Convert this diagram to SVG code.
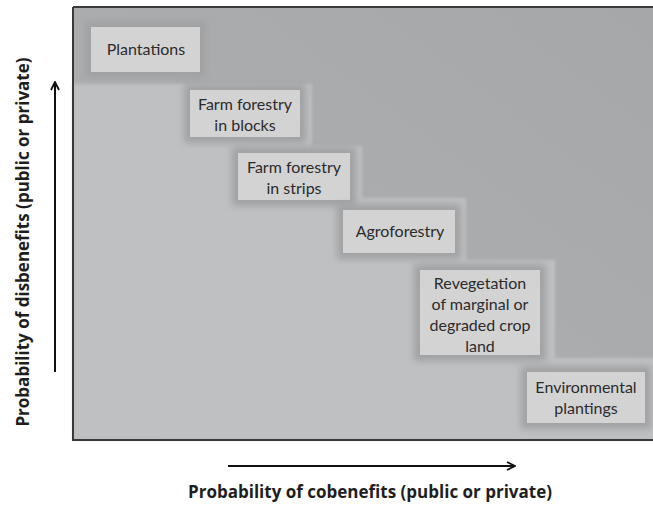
<svg xmlns="http://www.w3.org/2000/svg" width="653" height="505" viewBox="0 0 653 505">
<style>
.lbl{font-family:Lato,"Open Sans","Liberation Sans",sans-serif;font-size:16px;fill:#2b2b2b;text-anchor:middle}
.ax{font-family:"Open Sans","Liberation Sans",sans-serif;font-size:17px;font-weight:bold;fill:#1e1e1e;text-anchor:middle}
.box{fill:#d3d3d4}
.halo{fill:none;stroke:#a0a1a3;stroke-width:12}
.arr{stroke:#111;stroke-width:2;fill:none}
</style>
<defs>
<linearGradient id="bg" x1="0" y1="1" x2="1" y2="0">
<stop offset="0" stop-color="#b0b1b3"/>
<stop offset="1" stop-color="#a6a7a9"/>
</linearGradient>
<filter id="bl" x="-30%" y="-30%" width="160%" height="160%"><feGaussianBlur stdDeviation="3.5"/></filter>
<filter id="bl2" x="-5%" y="-5%" width="110%" height="110%"><feGaussianBlur stdDeviation="1.5"/></filter>
<marker id="ah" viewBox="0 0 10 10" refX="9" refY="5" markerWidth="10" markerHeight="10" markerUnits="userSpaceOnUse" orient="auto">
<path d="M1,1 L9,5 L1,9" fill="none" stroke="#111" stroke-width="1.8"/>
</marker>
</defs>
<g id="plot">
<rect x="73" y="7" width="590" height="433" fill="url(#bg)"/>
<path d="M73,440 L73,84 L312,84 L312,146 L362,146 L362,198 L466,198 L466,260 L555,260 L555,358 L660,358 L660,440 Z" fill="#bfc0c2" filter="url(#bl2)"/>
<path d="M73,7 H660 M73,7 V440 H660" fill="none" stroke="#3a3a3a" stroke-width="2"/>
</g>
<g id="n1"><rect class="halo" x="91" y="27" width="109" height="45" filter="url(#bl)"/><rect class="box" x="91" y="27" width="109" height="45"/><text class="lbl" x="146" y="55">Plantations</text></g>
<g id="n2"><rect class="halo" x="190" y="90" width="110" height="47" filter="url(#bl)"/><rect class="box" x="190" y="90" width="110" height="47"/><text class="lbl" x="245" y="110">Farm forestry</text><text class="lbl" x="245" y="131">in blocks</text></g>
<g id="n3"><rect class="halo" x="238" y="153" width="112" height="47" filter="url(#bl)"/><rect class="box" x="238" y="153" width="112" height="47"/><text class="lbl" x="294" y="173">Farm forestry</text><text class="lbl" x="294" y="194">in strips</text></g>
<g id="n4"><rect class="halo" x="343" y="210" width="112" height="43" filter="url(#bl)"/><rect class="box" x="343" y="210" width="112" height="43"/><text class="lbl" x="400" y="237">Agroforestry</text></g>
<g id="n5"><rect class="halo" x="420" y="270" width="120" height="85" filter="url(#bl)"/><rect class="box" x="420" y="270" width="120" height="85"/><text class="lbl" x="480" y="289">Revegetation</text><text class="lbl" x="480" y="310">of marginal or</text><text class="lbl" x="480" y="331">degraded crop</text><text class="lbl" x="480" y="352">land</text></g>
<g id="n6"><rect class="halo" x="527" y="372" width="118" height="51" filter="url(#bl)"/><rect class="box" x="527" y="372" width="118" height="51"/><text class="lbl" x="586" y="393">Environmental</text><text class="lbl" x="586" y="414">plantings</text></g>
<g id="connectors">
<line class="arr" x1="228" y1="466" x2="515" y2="466" marker-end="url(#ah)"/>
<line class="arr" x1="55" y1="372" x2="55" y2="82" marker-end="url(#ah)"/>
</g>
<text class="ax" x="370" y="498">Probability of cobenefits (public or private)</text>
<text class="ax" transform="translate(29,242) rotate(-90)">Probability of disbenefits (public or private)</text>
</svg>
